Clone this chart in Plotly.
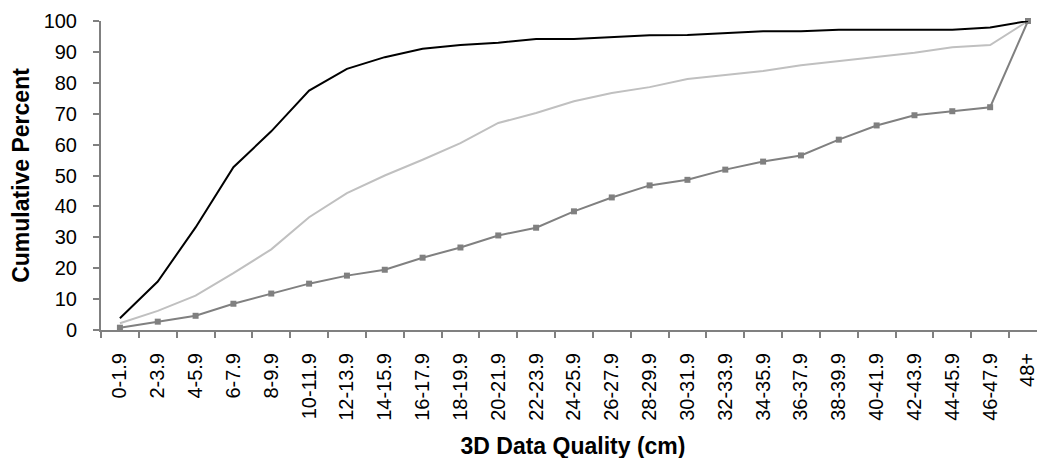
import plotly.graph_objects as go

categories = ["0-1.9", "2-3.9", "4-5.9", "6-7.9", "8-9.9", "10-11.9", "12-13.9", "14-15.9",
              "16-17.9", "18-19.9", "20-21.9", "22-23.9", "24-25.9", "26-27.9", "28-29.9",
              "30-31.9", "32-33.9", "34-35.9", "36-37.9", "38-39.9", "40-41.9", "42-43.9",
              "44-45.9", "46-47.9", "48+"]

series_black = [3.8, 15.7, 33.2, 52.7, 64.3, 77.5, 84.5, 88.3, 91.0, 92.2, 93.0, 94.2, 94.2,
                94.9, 95.4, 95.5, 96.1, 96.7, 96.7, 97.2, 97.2, 97.2, 97.2, 97.9, 100]
series_light = [2.2, 6.2, 11.1, 18.4, 26.1, 36.5, 44.3, 50.0, 55.1, 60.5, 67.0, 70.2, 74.0,
                76.7, 78.6, 81.2, 82.5, 83.8, 85.7, 87.1, 88.4, 89.7, 91.5, 92.2, 100]
series_marked = [0.75, 2.7, 4.6, 8.5, 11.8, 15.0, 17.6, 19.5, 23.4, 26.7, 30.6, 33.1, 38.4,
                 42.9, 46.8, 48.6, 51.9, 54.5, 56.5, 61.6, 66.2, 69.5, 70.8, 72.1, 100]

y_ticks = list(range(0, 101, 10))

FONT = "Arial, Liberation Sans, sans-serif"

fig = go.Figure()
fig.add_trace(go.Scatter(x=categories, y=series_light, mode="lines",
                         line=dict(color="#c0c0c0", width=2), showlegend=False,
                         cliponaxis=False))
fig.add_trace(go.Scatter(x=categories, y=series_marked, mode="lines+markers",
                         line=dict(color="#808080", width=2),
                         marker=dict(symbol="square", size=6, color="#808080"),
                         showlegend=False, cliponaxis=False))
fig.add_trace(go.Scatter(x=categories, y=series_black, mode="lines",
                         line=dict(color="#000000", width=2), showlegend=False,
                         cliponaxis=False))

fig.update_layout(
    width=1045, height=458,
    margin=dict(l=93, r=8, t=13, b=136),
    paper_bgcolor="white", plot_bgcolor="white",
    font=dict(family=FONT, size=20, color="black"),
    xaxis=dict(
        type="category", range=[-0.5, 24.45], automargin=False,
        showline=True, linecolor="#808080", linewidth=2,
        ticks="outside", ticklen=6, tickcolor="#808080", tickwidth=2,
        tickson="boundaries", ticklabelstandoff=13,
        tickangle=-90, tickfont=dict(family=FONT, size=20),
        showgrid=False, zeroline=False,
        title=dict(text="<b>3D Data Quality (cm)</b>", font=dict(family=FONT, size=23), standoff=18),
    ),
    yaxis=dict(
        range=[0, 100], tickvals=y_ticks, automargin=False,
        showline=True, linecolor="#808080", linewidth=2,
        ticks="outside", ticklen=6, tickcolor="#808080", tickwidth=2,
        ticklabelstandoff=12,
        tickfont=dict(family=FONT, size=20),
        showgrid=False, zeroline=False,
        title=dict(text="<b>Cumulative Percent</b>", font=dict(family=FONT, size=23), standoff=12),
    ),
)

fig.write_html("out.html")
